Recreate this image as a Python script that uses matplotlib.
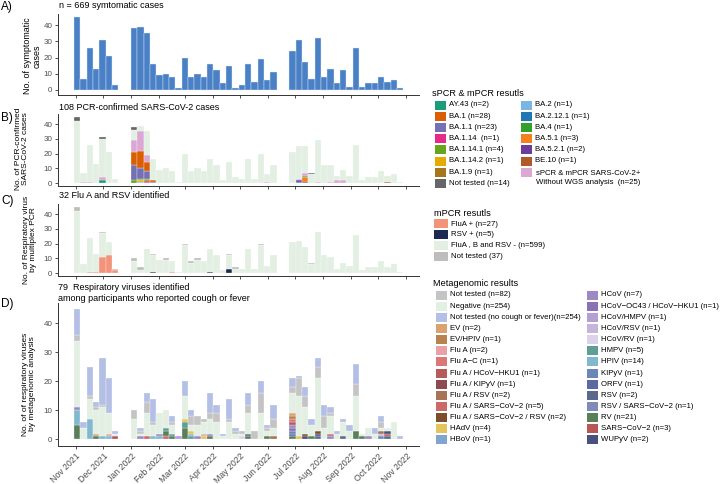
import numpy as np
import pandas as pd
import matplotlib
matplotlib.use("Agg")
import matplotlib.pyplot as plt
import matplotlib.dates as mdates
from matplotlib.patches import Rectangle

plt.rcParams['font.family'] = ['Liberation Sans', 'DejaVu Sans']

# ---- weekly bins (three sampling runs) ----
runs = [("2021-11-02", 7), ("2022-01-04", 23), ("2022-06-28", 18)]
weeks = pd.DatetimeIndex(np.concatenate([pd.date_range(s, periods=n, freq="7D").values for s, n in runs]))

# ---- A) symptomatic cases ----
sympt = [45, 7, 26, 13, 31, 21, 3,
         38, 39, 35, 16, 9, 10, 8, 1, 20, 8, 10, 8, 16, 12, 4, 15, 1, 3, 16, 5, 19, 6, 11,
         24, 31, 17, 7, 32, 8, 13, 4, 12, 2, 26, 2, 4, 4, 8, 5, 6, 1]

# ---- B) sPCR & mPCR / WGS lineages ----
b_neg = [42, 6, 25, 13, 26, 21, 3,
         7, 4, 16, 14, 9, 10, 8, 1, 20, 8, 10, 8, 16, 12, 2, 14, 4, 3, 16, 3, 20, 5, 12,
         21, 22, 18, 6, 28, 12, 11, 3, 7, 5, 26, 2, 4, 4, 8, 4, 6, 1]
b_pink = [0, 1, 1, 0, 2, 0, 0,
          8, 13, 5, 0, 0, 0, 0, 0, 0, 0, 0, 0, 0, 0, 0, 0, 0, 0, 0, 0, 0, 1, 0,
          0, 1, 2, 0, 1, 0, 1, 2, 2, 0, 0, 0, 0, 0, 0, 0, 0, 0]
b_nt = [3, 0, 0, 0, 1, 0, 0,
        2, 0, 0, 0, 0, 0, 0, 0, 0, 0, 0, 0, 0, 0, 0, 0, 0, 0, 0, 0, 0, 0, 0,
        0, 0, 0, 1, 0, 0, 0, 0, 0, 0, 0, 0, 0, 0, 0, 0, 0, 0]
b_lineage = {
    4: [("AY.43", 2)],
    7: [("BA.1.14.1", 2), ("BA.1.1", 10), ("BA.1", 9)],
    8: [("BA.2", 1), ("BA.1.14.2", 1), ("BA.1.14.1", 1), ("BA.1.1", 7), ("BA.1", 12)],
    9: [("BA.1.14", 1), ("BA.1.9", 1), ("BA.1.14.1", 1), ("BA.1.1", 5), ("BA.1", 6)],
    10: [("BA.1.1", 1), ("BA.1", 1)],
    31: [("BA.2.12.1", 1), ("BA.5.2.1", 1)],
    32: [("BA.5.2.1", 1), ("BA.5.1", 3), ("BA.4", 1)],
    45: [("BE.10", 1)],
}

# ---- C) multiplex PCR ----
c_flua = [0, 0, 1, 1, 11, 12, 2,
          0, 0, 0, 0, 0, 0, 1, 0, 0, 0, 0, 0, 0, 0, 0, 0, 0, 0, 0, 0, 0, 0, 0,
          0, 0, 0, 0, 0, 0, 0, 0, 0, 0, 0, 0, 0, 0, 0, 0, 0, 0]
c_rsv = [0, 0, 0, 0, 0, 0, 0,
         0, 0, 0, 1, 0, 0, 0, 0, 0, 0, 0, 0, 1, 0, 0, 3, 0, 0, 0, 0, 0, 0, 0,
         0, 0, 0, 0, 0, 0, 0, 0, 0, 0, 0, 0, 0, 0, 0, 0, 0, 0]
c_neg = [42, 6, 23, 12, 16, 9, 0,
         8, 2, 16, 11, 9, 9, 7, 1, 19, 7, 9, 8, 15, 12, 2, 9, 3, 3, 16, 3, 19, 5, 12,
         21, 22, 18, 6, 28, 12, 11, 3, 7, 5, 26, 2, 4, 4, 8, 4, 6, 1]
c_nt = [3, 0, 0, 0, 1, 0, 1,
        2, 2, 0, 1, 0, 1, 0, 0, 1, 1, 1, 0, 0, 0, 0, 1, 1, 0, 0, 0, 1, 0, 0,
        0, 0, 0, 1, 0, 0, 0, 0, 0, 0, 0, 0, 0, 0, 0, 0, 0, 0]

# ---- D) metagenomic analysis ----
d_neg = [23, 4, 7, 8, 10, 7, 1,
         7, 1, 8, 4, 7, 6, 3, 0, 8, 2, 4, 4, 5, 6, 1, 6, 2, 1, 7, 0, 9, 2, 3,
         7, 14, 9, 4, 18, 4, 6, 2, 5, 3, 12, 1, 3, 2, 1, 1, 6, 0]
d_nt = [2, 0, 1, 1, 1, 0, 0,
        3, 1, 4, 1, 0, 0, 1, 0, 0, 3, 3, 1, 2, 3, 0, 1, 1, 1, 3, 3, 7, 1, 3,
        2, 6, 4, 0, 4, 4, 1, 0, 0, 0, 4, 0, 0, 0, 2, 0, 0, 0]
d_nocough = [9, 2, 10, 2, 16, 12, 1,
             0, 1, 3, 8, 0, 0, 2, 0, 5, 2, 0, 0, 7, 3, 1, 7, 1, 0, 4, 0, 4, 1, 5,
             3, 1, 3, 2, 3, 4, 2, 1, 1, 2, 7, 0, 0, 2, 2, 0, 0, 1]
d_virus = {
    0: [("RV", 5), ("HPIV", 5), ("HCoV", 1)],
    2: [("HPIV", 7)],
    3: [("RV", 1), ("EV", 1)],
    4: [("HPIV", 1)],
    5: [("HPIV", 1), ("Flu A", 1)],
    6: [("SARS-CoV-2", 1)],
    8: [("HCoV", 1)],
    9: [("Flu A / SARS-CoV-2", 1)],
    10: [("HPIV", 1)],
    11: [("HPIV", 1), ("HCoV", 1)],
    12: [("Flu A / SARS-CoV-2", 1), ("RV", 2), ("HMPV", 1)],
    13: [("RV", 1), ("HMPV", 1)],
    14: [("HCoV/HMPV", 1)],
    15: [("RV", 4), ("HMPV", 2), ("HAdV", 1)],
    16: [("HMPV", 1), ("HPIV", 1), ("HAdV", 1)],
    17: [("HCoV", 1)],
    18: [("HAdV", 1), ("Flu A", 1)],
    19: [("RV", 1), ("HCoV", 1)],
    24: [("HCoV/RV", 1)],
    25: [("RV", 1), ("RSV", 1)],
    28: [("RV", 1)],
    29: [("Flu A / RSV", 1)],
    30: [("RV", 1), ("ORFV", 1), ("KIPyV", 1), ("HCoV-OC43", 1), ("HCoV", 1),
         ("Flu A / HCoV-HKU1", 1), ("Flu A-C", 1), ("EV/HPIV", 1), ("EV", 1)],
    31: [("HAdV", 1)],
    32: [("WUPyV", 1), ("Flu A / SARS-CoV-2 / RSV", 1)],
    33: [("RV", 1)],
    34: [("RSV", 1), ("WUPyV", 1), ("Flu A / SARS-CoV-2 / RSV", 1)],
    36: [("HCoV", 1), ("Flu A / SARS-CoV-2", 1)],
    38: [("RSV", 1)],
    40: [("RV", 3)],
    41: [("RV", 1)],
    42: [("HCoV", 1)],
    44: [("KIPyV", 1), ("HCoV/RSV", 1), ("Flu A / RSV", 1)],
    45: [("RSV", 1), ("SARS-CoV-2", 1), ("WUPyV", 1)],
}

# ---- colours / legend labels ----
NEG = "#e3efe2"
lineage_col = {
    "AY.43": "#1b9e77", "BA.1": "#d95f02", "BA.1.1": "#7570b3", "BA.1.14": "#e7298a",
    "BA.1.14.1": "#66a61e", "BA.1.14.2": "#e6ab02", "BA.1.9": "#a6761d", "Not tested": "#666666",
    "BA.2": "#7ab6e3", "BA.2.12.1": "#1f78b4", "BA.4": "#33a02c", "BA.5.1": "#f4801f",
    "BA.5.2.1": "#6a3d9a", "BE.10": "#b15928",
}
PINK = "#dba8d4"
lineage_lab = ["AY.43 (n=2)", "BA.1 (n=28)", "BA.1.1 (n=23)", "BA.1.14  (n=1)", "BA.1.14.1 (n=4)",
               "BA.1.14.2 (n=1)", "BA.1.9 (n=1)", "Not tested (n=14)",
               "BA.2 (n=1)", "BA.2.12.1 (n=1)", "BA.4 (n=1)", "BA.5.1 (n=3)", "BA.5.2.1 (n=2)", "BE.10 (n=1)"]

FLU, RSVC, NT = "#f3937a", "#1d2951", "#bdbdbd"
mpcr_lab = ["FluA + (n=27)", "RSV + (n=5)", "FluA , B and RSV - (n=599)", "Not tested (37)"]

virus_col = {
    "Not tested": "#c4c4c4", "Negative": NEG, "No cough": "#b4bfe6",
    "EV": "#d9a26f", "EV/HPIV": "#b7834f", "Flu A": "#e8a2a5", "Flu A-C": "#dd7677",
    "Flu A / HCoV-HKU1": "#b75a5c", "Flu A / KIPyV": "#8e4a51", "Flu A / RSV": "#a87456",
    "Flu A / SARS-CoV-2": "#cb6a6b", "Flu A / SARS-CoV-2 / RSV": "#7c4f2c", "HAdV": "#e4c55c",
    "HBoV": "#80a5cf", "HCoV": "#9d87c4", "HCoV-OC43": "#8a70b4", "HCoV/HMPV": "#b2a0d2",
    "HCoV/RSV": "#c5b5dc", "HCoV/RV": "#ddd1eb", "HMPV": "#5f9e96", "HPIV": "#80b8cf",
    "KIPyV": "#6b87b5", "ORFV": "#5c6aa4", "RSV": "#5b6a8b", "RSV / SARS-CoV-2": "#7f8cb7",
    "RV": "#5b7f59", "SARS-CoV-2": "#b95757", "WUPyV": "#49527e",
}
virus_lab = [
    ("Not tested", "Not tested (n=82)"), ("Negative", "Negative (n=254)"),
    ("No cough", "Not tested (no cough or fever)(n=254)"), ("EV", "EV (n=2)"),
    ("EV/HPIV", "EV/HPIV (n=1)"), ("Flu A", "Flu A (n=2)"), ("Flu A-C", "Flu A\u2212C (n=1)"),
    ("Flu A / HCoV-HKU1", "Flu A / HCoV\u2212HKU1 (n=1)"), ("Flu A / KIPyV", "Flu A / KIPyV (n=1)"),
    ("Flu A / RSV", "Flu A / RSV (n=2)"), ("Flu A / SARS-CoV-2", "Flu A / SARS\u2212CoV\u22122 (n=5)"),
    ("Flu A / SARS-CoV-2 / RSV", "Flu A / SARS\u2212CoV\u22122 / RSV (n=2)"),
    ("HAdV", "HAdV (n=4)"), ("HBoV", "HBoV (n=1)"),
    ("HCoV", "HCoV (n=7)"), ("HCoV-OC43", "HCoV\u2212OC43 / HCoV\u2212HKU1 (n=1)"),
    ("HCoV/HMPV", "HCoV/HMPV (n=1)"), ("HCoV/RSV", "HCoV/RSV (n=1)"), ("HCoV/RV", "HCoV/RV (n=1)"),
    ("HMPV", "HMPV (n=5)"), ("HPIV", "HPIV (n=14)"), ("KIPyV", "KIPyV (n=1)"), ("ORFV", "ORFV (n=1)"),
    ("RSV", "RSV (n=2)"), ("RSV / SARS-CoV-2", "RSV / SARS\u2212CoV\u22122 (n=1)"), ("RV", "RV (n=21)"),
    ("SARS-CoV-2", "SARS\u2212CoV\u22122 (n=3)"), ("WUPyV", "WUPyV (n=2)"),
]

W, H = 721, 484
fig = plt.figure(figsize=(W / 100, H / 100), dpi=100)
x = mdates.date2num(weeks)
BW = 7.0


def px_axes(top, bottom, left=58, right=419):
    return fig.add_axes([left / W, 1 - bottom / H, (right - left) / W, (bottom - top) / H])


def style(ax, ylim, labels=False):
    for s in ("top", "right"):
        ax.spines[s].set_visible(False)
    for s in ("left", "bottom"):
        ax.spines[s].set_color("#333333")
        ax.spines[s].set_linewidth(0.7)
    ax.set_xlim(mdates.date2num(pd.Timestamp("2021-10-12")), mdates.date2num(pd.Timestamp("2022-11-15")))
    ax.set_ylim(*ylim)
    ax.set_yticks([0, 10, 20, 30, 40])
    ax.xaxis.set_major_locator(mdates.MonthLocator())
    ax.xaxis.set_major_formatter(mdates.DateFormatter("%b %Y"))
    ax.tick_params(axis="both", length=2.5, width=0.6, color="#333333", labelsize=5.8,
                   labelcolor="#4d4d4d", pad=1.5)
    if labels:
        plt.setp(ax.get_xticklabels(), rotation=45, ha="right", rotation_mode="anchor", fontsize=6.3)
    else:
        ax.tick_params(axis="x", labelbottom=False)


def seg(ax, i, h, b, c):
    ax.bar(x[i], h, width=BW, bottom=b, color=c, edgecolor="white", linewidth=0.2)


# A
axA = px_axes(14, 95)
axA.bar(x, sympt, width=BW, color="#4a80c6", edgecolor="#dfe8f5", linewidth=0.3)
style(axA, (-3.1, 46.8))

# B
axB = px_axes(114, 186)
for i in range(len(x)):
    b = 0
    for name, n in b_lineage.get(i, []):
        seg(axB, i, n, b, lineage_col[name]); b += n
    for h, c in ((b_pink[i], PINK), (b_neg[i], NEG), (b_nt[i], lineage_col["Not tested"])):
        if h:
            seg(axB, i, h, b, c); b += h
style(axB, (-2.0, 46.8))

# C
axC = px_axes(204, 276)
for i in range(len(x)):
    b = 0
    for h, c in ((c_flua[i], FLU), (c_rsv[i], RSVC), (c_neg[i], NEG), (c_nt[i], NT)):
        if h:
            seg(axC, i, h, b, c); b += h
style(axC, (-2.0, 46.9))

# D
axD = px_axes(303, 446)
for i in range(len(x)):
    b = 0
    for name, n in d_virus.get(i, []):
        seg(axD, i, n, b, virus_col[name]); b += n
    for h, c in ((d_neg[i], NEG), (d_nt[i], virus_col["Not tested"]), (d_nocough[i], virus_col["No cough"])):
        if h:
            seg(axD, i, h, b, c); b += h
style(axD, (-2.3, 47), labels=True)


def ftext(px, py, s, **kw):
    return fig.text(px / W, 1 - py / H, s, **kw)


# panel letters, titles, y labels
for lab, py in (("A)", 7), ("B)", 118), ("C)", 201), ("D)", 304)):
    ftext(1, py, lab, fontsize=8.5, va="center", ha="left")
ftext(59, 6, "n = 669 symtomatic cases", fontsize=6.5, va="center")
ftext(59, 108, "108 PCR-confirmed SARS-CoV-2 cases", fontsize=6.5, va="center")
ftext(59, 196, "32 Flu A and RSV identified", fontsize=6.5, va="center")
ftext(58, 293, "79  Respiratory viruses identified\namong participants who reported cough or fever",
      fontsize=6.5, va="center", linespacing=1.15)
ylabs = [(32, 56, 6.4, "No. of symptomatic\ncases"), (22, 149, 6.0, "No. of PCR-confirmed\nSARS-CoV-2 cases"),
         (30, 240, 6.0, "No. of Respiratory virus\nby multiplex PCR"),
         (29, 384, 6.0, "No. of of respiratory viruses\nby metagenomic analysis")]
for px, py, fs, s in ylabs:
    ftext(px, py, s, fontsize=fs, rotation=90, ha="center", va="center", linespacing=1.05)


def entry(px, py, color, text, bw=11, bh=9):
    fig.add_artist(Rectangle((px / W, 1 - (py + bh / 2) / H), bw / W, bh / H,
                             transform=fig.transFigure, facecolor=color, edgecolor="none"))
    if text:
        ftext(px + bw + 3, py, text, fontsize=5.6, va="center")


# legend: sPCR
ftext(432, 94, "sPCR & mPCR resutls", fontsize=6.6, va="center")
lin_keys = list(lineage_col.keys())
for k, (key, lab) in enumerate(zip(lin_keys, lineage_lab)):
    col, row = divmod(k, 8)
    entry(435 if col == 0 else 521, 105 + 11.2 * row, lineage_col[key], lab)
entry(521, 172.2, PINK, None)
ftext(536, 178, "sPCR & mPCR SARS-CoV-2+\nWithout WGS analysis  (n=25)", fontsize=5.6, va="center",
      linespacing=1.35)

# legend: mPCR
ftext(434, 213, "mPCR resutls", fontsize=6.6, va="center")
for k, (c, lab) in enumerate(zip((FLU, RSVC, NEG, NT), mpcr_lab)):
    entry(434, 224 + 10.7 * k, c, lab, bw=14)

# legend: metagenomic
ftext(433, 284, "Metagenomic results", fontsize=6.6, va="center")
for k, (key, lab) in enumerate(virus_lab):
    col, row = divmod(k, 14)
    entry(436 if col == 0 else 587, 295 + 11.15 * row, virus_col[key], lab)

fig.savefig("out.png", dpi=100)
